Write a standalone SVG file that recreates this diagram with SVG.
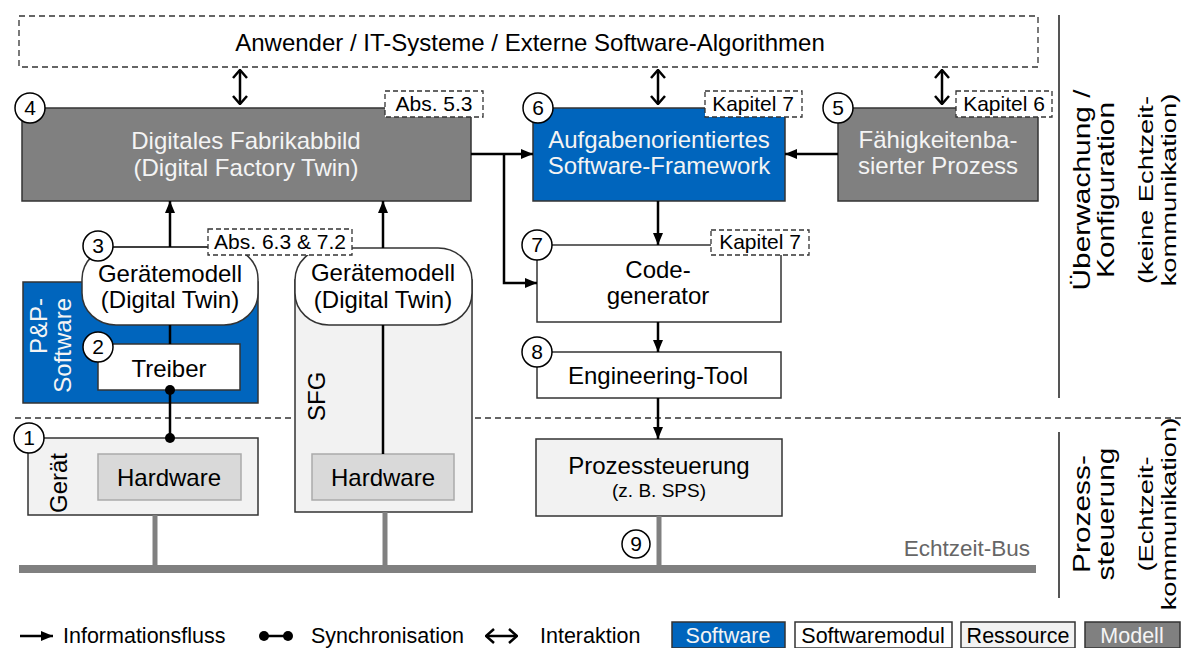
<svg xmlns="http://www.w3.org/2000/svg" width="1191" height="648" viewBox="0 0 1191 648">
  <style>
    text { font-family: "Liberation Sans", Arial, Helvetica, sans-serif; fill: #000; }
    .t24 { font-size: 24px; text-anchor: middle; }
    .t21 { font-size: 21px; text-anchor: middle; }
    .lt { fill: #f4f4f4; }
    .box { stroke: #333; stroke-width: 1.5; }
    .sw { fill: #0065bd; }
    .mod { fill: #808080; }
    .res { fill: #f2f2f2; }
    .wht { fill: #fff; }
    .hw { fill: #d9d9d9; stroke: #aaa; stroke-width: 1.5; }
    .tag { fill: #fff; stroke: #333; stroke-width: 1.3; stroke-dasharray: 5 3; }
    .num circle { fill: #fff; stroke: #000; stroke-width: 1.5; }
    .num text { font-size: 21px; text-anchor: middle; }
    .flow { stroke: #000; stroke-width: 2.5; fill: none; }
    .bus { stroke: #808080; fill: none; }
    .sep { stroke: #555; stroke-width: 2; }
    .side { text-anchor: middle; }
  </style>
  <defs>
    <marker id="arr" viewBox="0 0 12 10" refX="12" refY="5" markerWidth="12" markerHeight="10" markerUnits="userSpaceOnUse" orient="auto">
      <path d="M0,0 L12,5 L0,10 z" fill="#000"/>
    </marker>
    <marker id="chev" viewBox="0 0 10 16" refX="9" refY="8" markerWidth="10" markerHeight="16" markerUnits="userSpaceOnUse" orient="auto-start-reverse">
      <path d="M1,1 L9,8 L1,15" fill="none" stroke="#000" stroke-width="2.5"/>
    </marker>
    <marker id="dot" viewBox="0 0 10 10" refX="5" refY="5" markerWidth="10" markerHeight="10" markerUnits="userSpaceOnUse">
      <circle cx="5" cy="5" r="5" fill="#000"/>
    </marker>
  </defs>

  <!-- layer boundary and side labels -->
  <g id="layers">
    <line x1="15" y1="418" x2="1185" y2="418" stroke="#333" stroke-width="1.3" stroke-dasharray="6 4"/>
    <line class="sep" x1="1059" y1="15" x2="1059" y2="398"/>
    <line class="sep" x1="1059" y1="432" x2="1059" y2="598"/>
    <text class="side" font-size="23" transform="translate(1090,190) rotate(-90) scale(1.3,1)">Überwachung /</text>
    <text class="side" font-size="23" transform="translate(1114,190) rotate(-90) scale(1.3,1)">Konfiguration</text>
    <text class="side" font-size="21" transform="translate(1153,190) rotate(-90) scale(1.3,1)">(keine Echtzeit-</text>
    <text class="side" font-size="21" transform="translate(1176,190) rotate(-90) scale(1.3,1)">kommunikation)</text>
    <text class="side" font-size="23" transform="translate(1090,514) rotate(-90) scale(1.3,1)">Prozess-</text>
    <text class="side" font-size="23" transform="translate(1114,514) rotate(-90) scale(1.3,1)">steuerung</text>
    <text class="side" font-size="21" transform="translate(1153,514) rotate(-90) scale(1.3,1)">(Echtzeit-</text>
    <text class="side" font-size="21" transform="translate(1176,514) rotate(-90) scale(1.3,1)">kommunikation)</text>
  </g>

  <!-- external systems -->
  <g id="extern">
    <rect x="19" y="16" width="1019" height="51" fill="#fff" stroke="#333" stroke-width="1.3" stroke-dasharray="6 4"/>
    <text class="t24" x="530" y="51">Anwender / IT-Systeme / Externe Software-Algorithmen</text>
  </g>

  <!-- 4: digital factory twin -->
  <g id="n4">
    <rect class="box mod" x="22" y="108" width="449" height="93"/>
    <text class="t24 lt" x="246" y="149">Digitales Fabrikabbild</text>
    <text class="t24 lt" x="246" y="176">(Digital Factory Twin)</text>
    <rect class="tag" x="385" y="91" width="98" height="26"/>
    <text class="t21" x="434" y="111">Abs. 5.3</text>
    <g class="num"><circle cx="30" cy="108" r="15"/><text x="30" y="115">4</text></g>
  </g>

  <!-- 6: task oriented software framework -->
  <g id="n6">
    <rect class="box sw" x="533" y="108" width="252" height="93"/>
    <text class="t24 lt" x="659" y="148">Aufgabenorientiertes</text>
    <text class="t24 lt" x="659" y="174">Software-Framework</text>
    <rect class="tag" x="705" y="91" width="97" height="26"/>
    <text class="t21" x="753" y="111">Kapitel 7</text>
    <g class="num"><circle cx="538" cy="108" r="15"/><text x="538" y="115">6</text></g>
  </g>

  <!-- 5: skill based process -->
  <g id="n5">
    <rect class="box mod" x="838" y="108" width="200" height="93"/>
    <text class="t24 lt" x="938" y="148">Fähigkeitenba-</text>
    <text class="t24 lt" x="938" y="174">sierter Prozess</text>
    <rect class="tag" x="956" y="91" width="96" height="26"/>
    <text class="t21" x="1004" y="111">Kapitel 6</text>
    <g class="num"><circle cx="838" cy="108" r="15"/><text x="838" y="115">5</text></g>
  </g>

  <!-- 7: code generator -->
  <g id="n7">
    <rect class="box wht" x="537" y="245" width="244" height="77"/>
    <text class="t24" x="658" y="278">Code-</text>
    <text class="t24" x="658" y="304">generator</text>
    <rect class="tag" x="711" y="230" width="98" height="25"/>
    <text class="t21" x="760" y="249">Kapitel 7</text>
    <g class="num"><circle cx="537" cy="245" r="15"/><text x="537" y="252">7</text></g>
  </g>

  <!-- 8: engineering tool -->
  <g id="n8">
    <rect class="box wht" x="537" y="352" width="244" height="46"/>
    <text class="t24" x="658" y="384">Engineering-Tool</text>
    <g class="num"><circle cx="537" cy="352" r="15"/><text x="537" y="359">8</text></g>
  </g>

  <!-- 9: process control -->
  <g id="n9">
    <rect class="box res" x="536" y="439" width="246" height="77"/>
    <text class="t24" x="659" y="474">Prozessteuerung</text>
    <text x="659" y="497" font-size="19" text-anchor="middle">(z. B. SPS)</text>
    <g class="num"><circle cx="636" cy="544" r="14"/><text x="636" y="551">9</text></g>
  </g>

  <!-- 1: device -->
  <g id="n1">
    <rect class="box res" x="28" y="438" width="230" height="77"/>
    <text font-size="24" transform="translate(67,513) rotate(-90)">Gerät</text>
    <rect class="hw" x="98" y="454" width="143" height="46"/>
    <text class="t24" x="169" y="486">Hardware</text>
    <g class="num"><circle cx="29" cy="438" r="15"/><text x="29" y="445">1</text></g>
  </g>

  <!-- smart field device -->
  <g id="sfg">
    <rect class="box res" x="295" y="280" width="177" height="232"/>
    <text font-size="24" transform="translate(325,421) rotate(-90)">SFG</text>
    <rect class="hw" x="312" y="454" width="142" height="46"/>
    <text class="t24" x="383" y="486">Hardware</text>
    <rect class="box wht" x="295" y="248" width="177" height="77" rx="34" ry="32"/>
    <text class="t24" x="383" y="281">Gerätemodell</text>
    <text class="t24" x="383" y="308">(Digital Twin)</text>
  </g>

  <!-- 2/3: plug and produce software -->
  <g id="pnp">
    <rect class="box sw" x="23" y="282" width="235" height="121"/>
    <text class="lt" font-size="24" text-anchor="end" transform="translate(47,298) rotate(-90)">P&amp;P-</text>
    <text class="lt" font-size="24" text-anchor="end" transform="translate(71,298) rotate(-90)">Software</text>
  </g>
  <g id="n2">
    <rect class="box wht" x="98" y="344" width="142" height="46"/>
    <text class="t24" x="169" y="377">Treiber</text>
    <g class="num"><circle cx="98" cy="347" r="15"/><text x="98" y="354">2</text></g>
  </g>
  <g id="n3">
    <rect class="box wht" x="82" y="247" width="176" height="78" rx="34" ry="32"/>
    <line x1="98" y1="247" x2="210" y2="247" stroke="#333" stroke-width="1.5"/>
    <text class="t24" x="170" y="282">Gerätemodell</text>
    <text class="t24" x="170" y="308">(Digital Twin)</text>
    <rect class="tag" x="208" y="229" width="144" height="26"/>
    <text class="t21" x="280" y="249">Abs. 6.3 &amp; 7.2</text>
    <g class="num"><circle cx="98" cy="246" r="15"/><text x="98" y="253">3</text></g>
  </g>

  <!-- connectors -->
  <g id="connectors">
    <line class="flow" x1="240" y1="70" x2="240" y2="104" marker-start="url(#chev)" marker-end="url(#chev)"/>
    <line class="flow" x1="658" y1="70" x2="658" y2="104" marker-start="url(#chev)" marker-end="url(#chev)"/>
    <line class="flow" x1="942" y1="70" x2="942" y2="104" marker-start="url(#chev)" marker-end="url(#chev)"/>
    <line class="flow" x1="471" y1="154" x2="533" y2="154" marker-end="url(#arr)"/>
    <polyline class="flow" points="504,154 504,283 537,283" marker-end="url(#arr)"/>
    <line class="flow" x1="838" y1="154" x2="785" y2="154" marker-end="url(#arr)"/>
    <line class="flow" x1="658" y1="201" x2="658" y2="245" marker-end="url(#arr)"/>
    <line class="flow" x1="658" y1="322" x2="658" y2="352" marker-end="url(#arr)"/>
    <line class="flow" x1="658" y1="398" x2="658" y2="439" marker-end="url(#arr)"/>
    <line class="flow" x1="170" y1="247" x2="170" y2="201" marker-end="url(#arr)"/>
    <line class="flow" x1="170" y1="325" x2="170" y2="344"/>
    <line class="flow" x1="383" y1="248" x2="383" y2="201" marker-end="url(#arr)"/>
    <line class="flow" x1="383" y1="325" x2="383" y2="454"/>
    <line class="flow" x1="170" y1="390" x2="170" y2="438" marker-start="url(#dot)" marker-end="url(#dot)"/>
  </g>

  <!-- real-time bus -->
  <g id="bus">
    <line class="bus" stroke-width="5" x1="155" y1="515" x2="155" y2="568"/>
    <line class="bus" stroke-width="5" x1="385" y1="512" x2="385" y2="568"/>
    <line class="bus" stroke-width="5" x1="659" y1="516" x2="659" y2="568"/>
    <line class="bus" stroke-width="8" x1="19" y1="569" x2="1036" y2="569"/>
    <text x="1030" y="556" font-size="22.5" text-anchor="end" style="fill:#666">Echtzeit-Bus</text>
  </g>

  <!-- legend -->
  <g id="legend">
    <line class="flow" x1="20" y1="636" x2="53" y2="636" marker-end="url(#arr)"/>
    <text x="63" y="643" font-size="21.5">Informationsfluss</text>
    <line class="flow" x1="264" y1="636" x2="288" y2="636" marker-start="url(#dot)" marker-end="url(#dot)"/>
    <text x="311" y="643" font-size="21.5">Synchronisation</text>
    <line class="flow" x1="486" y1="636" x2="517" y2="636" marker-start="url(#chev)" marker-end="url(#chev)"/>
    <text x="540" y="643" font-size="21.5">Interaktion</text>
    <rect class="box sw" x="672" y="622" width="113" height="26"/>
    <text class="lt" x="728" y="643" font-size="21.5" text-anchor="middle">Software</text>
    <rect class="box wht" x="795" y="622" width="157" height="26"/>
    <text x="873" y="643" font-size="21.5" text-anchor="middle">Softwaremodul</text>
    <rect class="box res" x="961" y="622" width="114" height="26"/>
    <text x="1018" y="643" font-size="21.5" text-anchor="middle">Ressource</text>
    <rect class="box mod" x="1085" y="622" width="95" height="26"/>
    <text class="lt" x="1132" y="643" font-size="21.5" text-anchor="middle">Modell</text>
  </g>
</svg>
